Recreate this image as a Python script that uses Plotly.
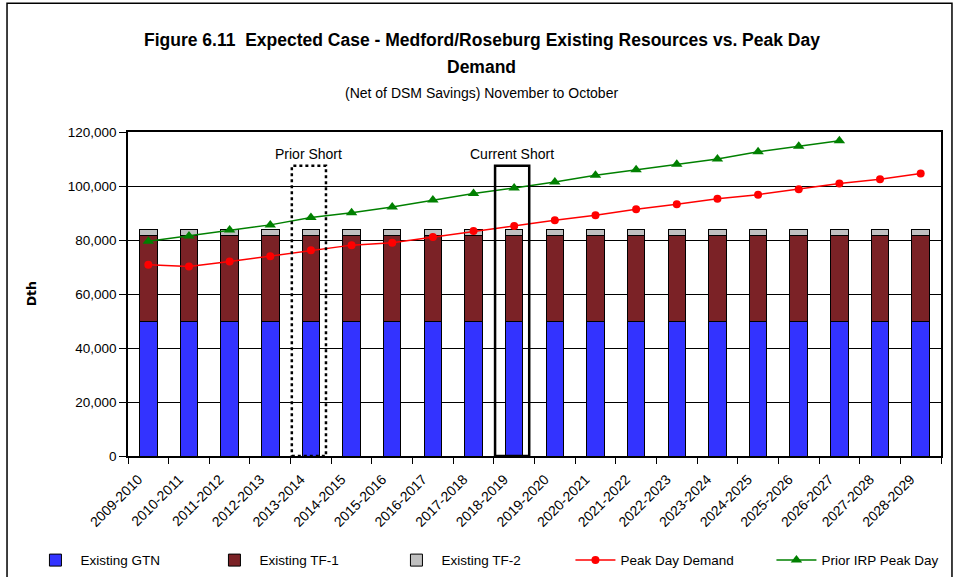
import plotly.graph_objects as go

categories = ["2009-2010", "2010-2011", "2011-2012", "2012-2013", "2013-2014",
              "2014-2015", "2015-2016", "2016-2017", "2017-2018", "2018-2019",
              "2019-2020", "2020-2021", "2021-2022", "2022-2023", "2023-2024",
              "2024-2025", "2025-2026", "2026-2027", "2027-2028", "2028-2029"]

existing_gtn = [50000] * 20
existing_tf1 = [31500] * 20
existing_tf2 = [2500] * 20

peak_day_demand = [70800, 70200, 72000, 74000, 76200, 78100, 79000, 81100, 83300, 85200,
                   87300, 89200, 91400, 93200, 95300, 96800, 98800, 100900, 102500, 104600]

prior_irp_categories = categories[:18]
prior_irp_peak_day = [79500, 81500, 83700, 85600, 88300, 90100, 92200, 94800, 97200, 99300,
                      101500, 104000, 106000, 108100, 110000, 112700, 114700, 116800]

short_labels = ["Prior Short", "Current Short"]
short_years = ["2013-2014", "2018-2019"]
short_dash = ["dot", "solid"]
short_top = 107500

tick_vals = [0, 20000, 40000, 60000, 80000, 100000, 120000]

FONT = "Liberation Sans, Arial, sans-serif"

fig = go.Figure()
fig.add_trace(go.Bar(x=categories, y=existing_gtn, name="Existing GTN", legendwidth=124,
                     marker=dict(color="#3333FF", line=dict(color="black", width=1))))
fig.add_trace(go.Bar(x=categories, y=existing_tf1, name="Existing TF-1", legendwidth=127,
                     marker=dict(color="#7B2226", line=dict(color="black", width=1))))
fig.add_trace(go.Bar(x=categories, y=existing_tf2, name="Existing TF-2", legendwidth=124,
                     marker=dict(color="#C0C0C0", line=dict(color="black", width=1))))
fig.add_trace(go.Scatter(x=categories, y=peak_day_demand, name="Peak Day Demand", legendwidth=146,
                         mode="lines+markers", line=dict(color="#FF0000", width=1.5),
                         marker=dict(symbol="circle", size=8, color="#FF0000")))
fig.add_trace(go.Scatter(x=prior_irp_categories, y=prior_irp_peak_day, name="Prior IRP Peak Day",
                         legendwidth=120,
                         mode="lines+markers", line=dict(color="#008000", width=1.5),
                         marker=dict(symbol="triangle-up", size=10, color="#008000")))

for lab, yr, dash in zip(short_labels, short_years, short_dash):
    i = categories.index(yr)
    x0, x1 = i - 0.47, i + 0.37
    fig.add_shape(type="rect", xref="x", yref="y", x0=x0, x1=x1,
                  y0=0, y1=short_top, line=dict(color="black", width=2.5, dash=dash),
                  fillcolor="rgba(0,0,0,0)", layer="above")
    fig.add_annotation(x=(x0 + x1) / 2, y=short_top, xref="x", yref="y", text=lab,
                       showarrow=False, yanchor="bottom", yshift=2,
                       font=dict(size=14, color="black", family=FONT))

# Titles
fig.add_annotation(x=0.435, y=1.285, xref="paper", yref="paper", showarrow=False,
                   text="<b>Figure 6.11  Expected Case - Medford/Roseburg Existing Resources vs. Peak Day</b>",
                   font=dict(size=17.5, color="black", family=FONT), yanchor="middle")
fig.add_annotation(x=0.435, y=1.202, xref="paper", yref="paper", showarrow=False,
                   text="<b>Demand</b>", font=dict(size=17.5, color="black", family=FONT), yanchor="middle")
fig.add_annotation(x=0.435, y=1.121, xref="paper", yref="paper", showarrow=False,
                   text="(Net of DSM Savings) November to October",
                   font=dict(size=14, color="black", family=FONT), yanchor="middle")
fig.add_annotation(x=-0.119, y=0.5, xref="paper", yref="paper", showarrow=False,
                   text="<b>Dth</b>", textangle=-90, xanchor="center", yanchor="middle",
                   font=dict(size=12.5, color="black", family="DejaVu Sans"))

# outer frame
fig.add_shape(type="rect", xref="paper", yref="paper", x0=-0.1488, x1=1.0135,
              y0=-0.45, y1=1.397, line=dict(color="black", width=1.5))

fig.update_layout(
    barmode="stack", bargap=0.57,
    width=956, height=577,
    margin=dict(l=128, r=15, t=132, b=121, autoexpand=False),
    paper_bgcolor="white", plot_bgcolor="white",
    font=dict(family=FONT, color="black", size=13),
    showlegend=True,
    legend=dict(orientation="h", x=-0.12, xanchor="left", y=-0.322, yanchor="middle",
                font=dict(size=13.5, family=FONT), entrywidth=123, traceorder="normal",
                itemwidth=40),
)
fig.update_xaxes(type="category", categoryorder="array", categoryarray=categories,
                 tickangle=-45, tickson="boundaries", ticks="outside", ticklen=6,
                 tickcolor="black", showline=True, linecolor="black", linewidth=1.5,
                 mirror=True, showgrid=False, tickfont=dict(size=14, family=FONT),
                 ticklabelshift=-10, ticklabelstandoff=8,
                 range=[-0.5, 19.5], automargin=False)
fig.update_yaxes(range=[0, 120000], tickvals=tick_vals, tickformat=",d",
                 ticks="outside", ticklen=7, tickcolor="black",
                 showline=True, linecolor="black", linewidth=1.5, mirror=True,
                 showgrid=True, gridcolor="black", gridwidth=1, zeroline=False,
                 tickfont=dict(size=13.5, family=FONT), automargin=False)

fig.write_html("out.html", config={"displayModeBar": False},
               post_script="document.body.style.margin='0';")
